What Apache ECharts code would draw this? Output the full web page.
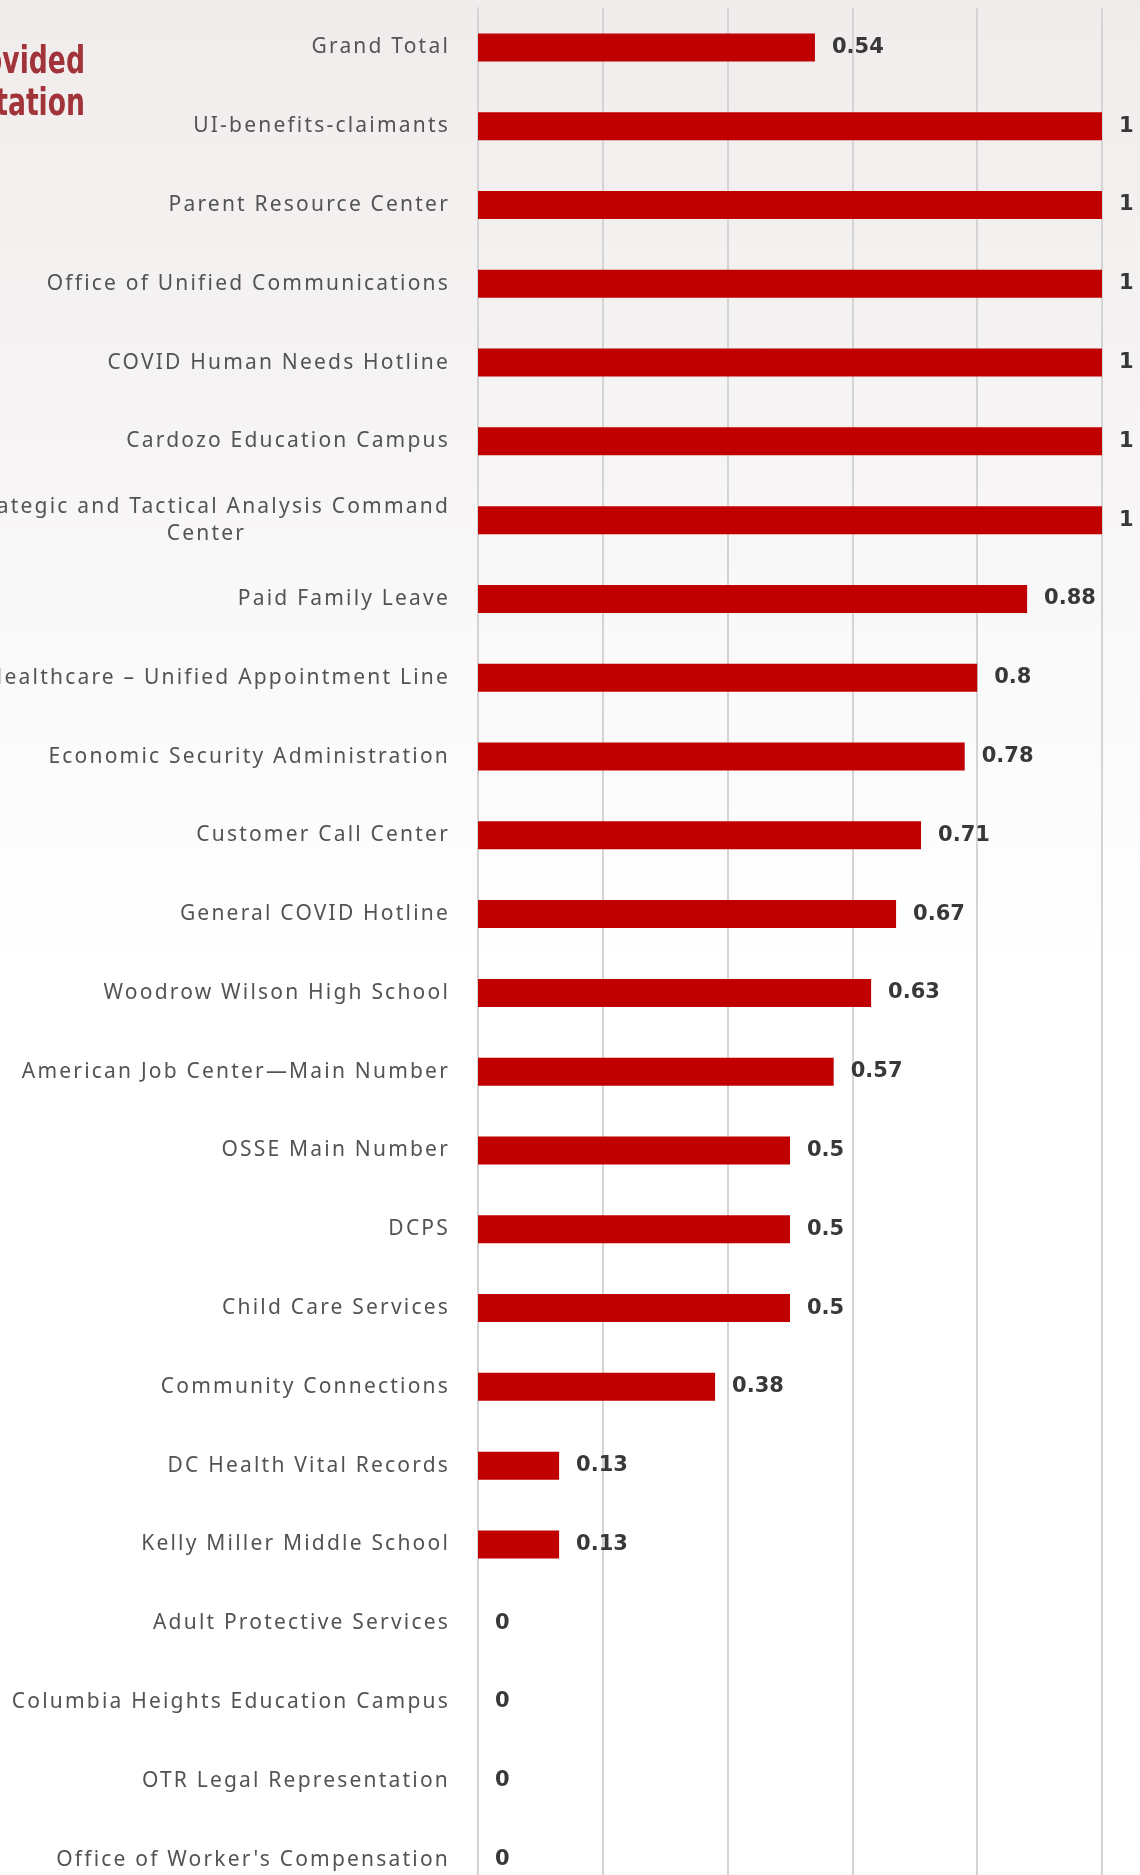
<!DOCTYPE html>
<html>
<head>
<meta charset="utf-8">
<style>
html,body{margin:0;padding:0;}
body{width:1140px;height:1875px;overflow:hidden;
background:linear-gradient(to bottom,#f1ecec 0%,#f4f1f1 15%,#f8f6f6 28%,#fcfbfb 40%,#ffffff 52%,#ffffff 100%);}
#chart{width:1140px;height:1875px;}
</style>
<script src="https://cdn.jsdelivr.net/npm/echarts@6/dist/echarts.min.js"></script>
</head>
<body>
<div id="chart"></div>
<script>
// Letter-spaced category labels (the reference uses tracked text)
(function(){
  var proto = CanvasRenderingContext2D.prototype;
  var desc = Object.getOwnPropertyDescriptor(proto, 'font');
  if (desc && desc.set && ('letterSpacing' in proto)) {
    Object.defineProperty(proto, 'font', {
      configurable: true,
      get: function(){ return desc.get.call(this); },
      set: function(v){
        desc.set.call(this, v);
        try { this.letterSpacing = /Noto Sans/.test(v) ? '2.2px' : '0px'; } catch(e) {}
      }
    });
  }
})();

const categories = [
  "Grand Total",
  "UI-benefits-claimants",
  "Parent Resource Center",
  "Office of Unified Communications",
  "COVID Human Needs Hotline",
  "Cardozo Education Campus",
  "Strategic and Tactical Analysis Command Center",
  "Paid Family Leave",
  "Healthcare \u2013 Unified Appointment Line",
  "Economic Security Administration",
  "Customer Call Center",
  "General COVID Hotline",
  "Woodrow Wilson High School",
  "American Job Center\u2014Main Number",
  "OSSE Main Number",
  "DCPS",
  "Child Care Services",
  "Community Connections",
  "DC Health Vital Records",
  "Kelly Miller Middle School",
  "Adult Protective Services",
  "Columbia Heights Education Campus",
  "OTR Legal Representation",
  "Office of Worker's Compensation"
];
const values = [0.54, 1, 1, 1, 1, 1, 1, 0.88, 0.8, 0.78, 0.71, 0.67, 0.63, 0.57, 0.5, 0.5, 0.5, 0.38, 0.13, 0.13, 0, 0, 0, 0];
const titleLines = ["Provided", "Interpretation"];
const valueTicks = [0, 0.2, 0.4, 0.6, 0.8, 1];

const chart = echarts.init(document.getElementById('chart'), null, {renderer: 'canvas', devicePixelRatio: 1});

const labelFont = "'Noto Sans', 'Open Sans', sans-serif";
const titleFont = "bold 37px 'Liberation Sans Narrow', 'DejaVu Sans Condensed', 'Liberation Sans', sans-serif";

chart.setOption({
  backgroundColor: 'transparent',
  animation: false,
  graphic: [
    {type: 'text', x: 85, y: 63, scaleX: 0.8, style: {text: titleLines[0], textAlign: 'right', textVerticalAlign: 'middle', fill: '#a0343a', font: titleFont}},
    {type: 'text', x: 85, y: 105, scaleX: 0.8, style: {text: titleLines[1], textAlign: 'right', textVerticalAlign: 'middle', fill: '#a0343a', font: titleFont}}
  ],
  grid: {left: 478, right: 38, top: 8, height: 1891, containLabel: false, outerBoundsMode: 'none'},
  xAxis: {
    type: 'value', min: valueTicks[0], max: valueTicks[valueTicks.length - 1], interval: 0.2,
    axisLabel: {show: false}, axisTick: {show: false}, axisLine: {show: false},
    splitLine: {show: true, lineStyle: {color: '#d4d4d4', width: 2}}
  },
  yAxis: {
    type: 'category', inverse: true, data: categories,
    axisTick: {show: false},
    axisLine: {show: true, lineStyle: {color: '#d4d4d4', width: 2}},
    axisLabel: {
      interval: 0, margin: 28, color: '#535353', fontSize: 21, fontFamily: labelFont,
      formatter: function (v) {
        if (v.indexOf('Strategic') === 0) {
          return '{c|Strategic and Tactical Analysis Command}\n{c|Center}';
        }
        return v;
      },
      rich: {c: {align: 'center', color: '#535353', fontSize: 21, fontFamily: labelFont, lineHeight: 27}}
    }
  },
  series: [{
    type: 'bar', data: values, barWidth: 28,
    itemStyle: {color: '#c00000'},
    label: {
      show: true, position: 'right', distance: 17,
      color: '#383838', fontSize: 21, fontWeight: 'bold', fontFamily: "'DejaVu Sans', sans-serif",
      formatter: function (p) { return String(p.value); }
    }
  }]
});
</script>
</body>
</html>
